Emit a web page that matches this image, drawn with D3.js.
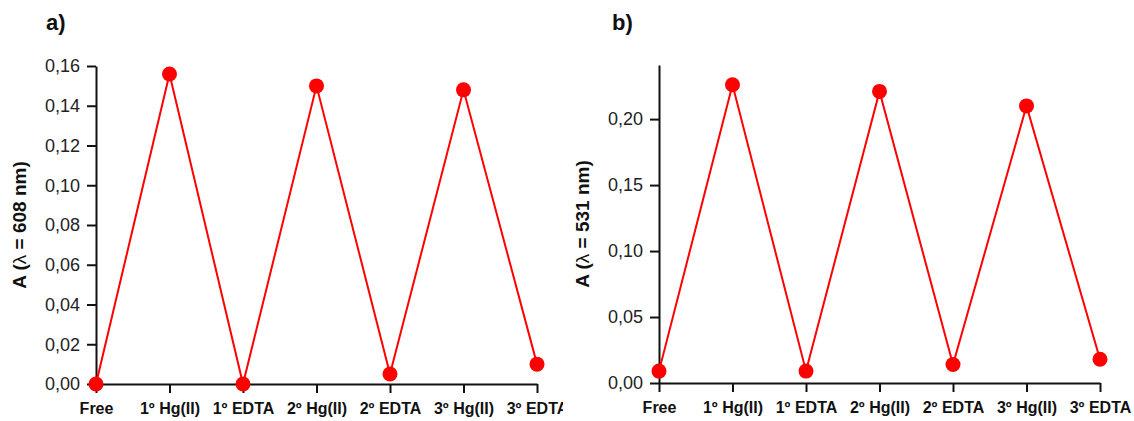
<!DOCTYPE html>
<html>
<head>
<meta charset="utf-8">
<script src="https://cdn.jsdelivr.net/npm/d3@7/dist/d3.min.js"></script>
<style>
  body { margin: 0; background: #fff; }
  svg { display: block; }
  .tick text { font-family: "Liberation Sans", Arial, sans-serif; }
</style>
</head>
<body>
<script>
var width = 1134;
var height = 421;

// categories on the x axis (same for both panels)
var categories = ['Free', '1º Hg(II)', '1º EDTA', '2º Hg(II)', '2º EDTA', '3º Hg(II)', '3º EDTA'];

// panel a) absorbance at 608 nm
var valuesA = [0.000, 0.156, 0.000, 0.150, 0.005, 0.148, 0.010];
var ticksA = [0, 0.02, 0.04, 0.06, 0.08, 0.10, 0.12, 0.14, 0.16];

// panel b) absorbance at 531 nm
var valuesB = [0.009, 0.226, 0.009, 0.221, 0.014, 0.210, 0.018];
var ticksB = [0, 0.05, 0.10, 0.15, 0.20];

var svg = d3.select('body').append('svg')
  .attr('width', width)
  .attr('height', height);

var fmt = function(d) { return d3.format('.2f')(d).replace('.', ','); };

var drawPanel = function(opts) {
  var g = svg.append('g');

  if (opts.clip) {
    svg.append('clipPath').attr('id', opts.clip.id)
      .append('rect').attr('x', 0).attr('y', 0)
      .attr('width', opts.clip.w).attr('height', height);
    g.attr('clip-path', 'url(#' + opts.clip.id + ')');
  }

  var x = d3.scalePoint().domain(categories).range([opts.left, opts.right]);
  var y = d3.scaleLinear().domain([0, opts.ymax]).range([opts.bottom, opts.top]);

  //y axis
  var ya = g.append('g')
    .attr('transform', 'translate(' + opts.left + ',0)')
    .call(d3.axisLeft(y).tickValues(opts.ticks).tickFormat(fmt).tickSize(9).tickSizeOuter(0).tickPadding(7));
  ya.selectAll('.tick text').attr('font-size', 18).attr('fill', '#222');

  //x axis
  var xa = g.append('g')
    .attr('transform', 'translate(0,' + opts.bottom + ')')
    .call(d3.axisBottom(x).tickSize(9).tickSizeOuter(0).tickPadding(6));
  xa.selectAll('.tick text').attr('font-size', 16).attr('font-weight', 'bold').attr('fill', '#111')
    .attr('dy', '0.95em');

  g.selectAll('.domain, .tick line').attr('stroke', '#111').attr('stroke-width', 2);

  //line + markers
  var line = d3.line()
    .x(function(d, i) { return x(categories[i]); })
    .y(function(d) { return y(d); });

  g.append('path')
    .datum(opts.values)
    .attr('fill', 'none')
    .attr('stroke', '#ff0000')
    .attr('stroke-width', 2)
    .attr('d', line);

  g.selectAll('circle.pt').data(opts.values).enter().append('circle')
    .attr('class', 'pt')
    .attr('cx', function(d, i) { return x(categories[i]); })
    .attr('cy', function(d) { return y(d); })
    .attr('r', 7.5)
    .attr('fill', '#ff0000');

  //axis title, lambda in normal weight like the original
  var t = g.append('text')
    .attr('transform', 'translate(' + (opts.left - 70) + ',' + ((opts.top + opts.bottom) / 2) + ') rotate(-90)')
    .attr('text-anchor', 'middle')
    .attr('font-family', 'Liberation Sans, Arial, sans-serif')
    .attr('font-size', 19)
    .attr('font-weight', 'bold')
    .attr('fill', '#111');
  t.append('tspan').text('A (');
  t.append('tspan').attr('font-weight', 'normal').text('λ');
  t.append('tspan').text(' = ' + opts.wl + ' nm)');

  //panel label
  svg.append('text')
    .attr('x', opts.labelX)
    .attr('y', 30)
    .attr('font-family', 'Liberation Sans, Arial, sans-serif')
    .attr('font-size', 22)
    .attr('font-weight', 'bold')
    .attr('fill', '#111')
    .text(opts.label);
};

drawPanel({
  left: 96, right: 537, top: 66, bottom: 384,
  ymax: 0.16, ticks: ticksA, values: valuesA,
  wl: 608, label: 'a)', labelX: 46,
  clip: { id: 'clipA', w: 563 }
});

drawPanel({
  left: 659, right: 1100, top: 65, bottom: 383,
  ymax: 0.241, ticks: ticksB, values: valuesB,
  wl: 531, label: 'b)', labelX: 612
});
</script>
</body>
</html>
